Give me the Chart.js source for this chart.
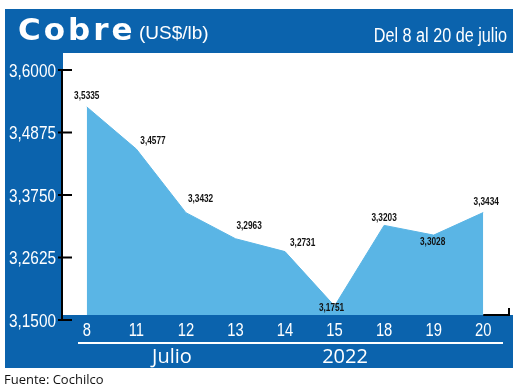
<!DOCTYPE html>
<html><head><meta charset="utf-8">
<script src="https://cdn.jsdelivr.net/npm/chart.js@4/dist/chart.umd.min.js"></script>
<style>html,body{margin:0;padding:0;background:#fff;}#c{display:block;}</style>
</head><body>
<canvas id="c" width="520" height="391"></canvas>
<script>
const days = ['8','11','12','13','14','15','18','19','20'];
const prices = [3.5335, 3.4577, 3.3432, 3.2963, 3.2731, 3.1751, 3.3203, 3.3028, 3.3434];
const yTicks = [3.15, 3.2625, 3.375, 3.4875, 3.6];
// label offsets relative to point: [dx, dy, align]
const labelPos = [[0,-11,'center'],[4,-8,'left'],[2,-14,'left'],[1,-13,'left'],[5,-9,'left'],[-3,2,'center'],[0,-8,'center'],[-1,7,'center'],[3,-11,'center']];

const DARK = '#0b63ad';
const FILL = '#5ab5e5';
const fmt = v => v.toFixed(4).replace('.', ',');
const SANS = '"Liberation Sans", Arial, sans-serif';

function narrow(ctx, text, x, y, size, sx, align, weight) {
  ctx.save();
  ctx.font = (weight || 'normal') + ' ' + size + 'px ' + SANS;
  ctx.translate(x, y);
  ctx.scale(sx, 1);
  ctx.textAlign = align;
  ctx.fillText(text, 0, 0);
  ctx.restore();
}

const deco = {
  id: 'deco',
  beforeDraw(chart) {
    const ctx = chart.ctx;
    ctx.save();
    ctx.fillStyle = '#fff';
    ctx.fillRect(0,0,520,391);
    ctx.fillStyle = DARK;
    ctx.fillRect(5, 9, 508, 359);
    ctx.fillStyle = '#fff';
    ctx.fillRect(63, 53, 457, 262);
    // header
    ctx.fillStyle = '#fff';
    ctx.textBaseline = 'alphabetic';
    ctx.font = 'bold 31px "DejaVu Sans", sans-serif';
    ctx.letterSpacing = '3px';
    ctx.fillText('Cobre', 18, 40);
    ctx.letterSpacing = '0px';
    ctx.font = '19px ' + SANS;
    ctx.fillText('(US$/lb)', 139, 39);
    ctx.restore();
    ctx.save();
    ctx.fillStyle = '#fff';
    ctx.textBaseline = 'alphabetic';
    narrow(ctx, 'Del 8 al 20 de julio', 507, 42, 19.5, 0.83, 'right');
    ctx.restore();
  },
  afterDatasetsDraw(chart) {
    const ctx = chart.ctx;
    const xs = chart.scales.x, ys = chart.scales.y;
    const ca = chart.chartArea;
    ctx.save();
    // bottom band (covers lower edge of fill)
    ctx.fillStyle = DARK;
    ctx.fillRect(5, 315, 508, 53);
    ctx.fillStyle = '#fff';
    ctx.textBaseline = 'middle';
    // x tick labels
    xs.ticks.forEach((t, i) => {
      narrow(ctx, days[i], xs.getPixelForTick(i), 331, 18, 0.82, 'center');
    });
    // y tick labels
    ys.ticks.forEach(t => {
      narrow(ctx, fmt(t.value), 56, ys.getPixelForValue(t.value) + 1.5, 19, 0.81, 'right');
    });
    // group labels
    ctx.textAlign = 'center';
    ctx.font = '20px "Open Sans", sans-serif';
    ctx.fillText('Julio', 172, 357);
    ctx.fillText('2022', 345, 357);
    ctx.fillRect(78, 342, 425, 2);
    // source
    ctx.fillStyle = '#111';
    ctx.textAlign = 'left';
    ctx.font = '13px "Open Sans", sans-serif';
    ctx.fillText('Fuente: Cochilco', 4, 380);
    // axes
    ctx.strokeStyle = '#000';
    ctx.lineWidth = 2;
    ctx.beginPath();
    ctx.moveTo(62, ys.getPixelForValue(yTicks[yTicks.length-1]));
    ctx.lineTo(62, ca.bottom + 1);
    yTicks.forEach(v => {
      const y = ys.getPixelForValue(v);
      ctx.moveTo(58, y); ctx.lineTo(72, y);
    });
    const xr = xs.getPixelForValue(days.length - 1);
    ctx.moveTo(xr, 315);
    ctx.lineTo(ca.right + 1, 315);
    ctx.lineTo(ca.right + 1, 308);
    ctx.stroke();
    // data labels
    ctx.fillStyle = '#111';
    prices.forEach((v, i) => {
      const px = xs.getPixelForValue(i), py = ys.getPixelForValue(v);
      const [dx, dy, al] = labelPos[i];
      narrow(ctx, fmt(v), px + dx, py + dy, 11.5, 0.72, al, 'bold');
    });
    ctx.restore();
  }
};

new Chart(document.getElementById('c'), {
  type: 'line',
  data: {
    labels: days,
    datasets: [{
      data: prices,
      fill: 'origin',
      backgroundColor: FILL,
      borderColor: FILL,
      borderWidth: 1,
      pointRadius: 0,
      tension: 0
    }]
  },
  options: {
    responsive: false,
    animation: false,
    devicePixelRatio: 1,
    layout: { padding: { left: 5, top: 70, right: 12, bottom: 41 } },
    plugins: { legend: { display: false }, tooltip: { enabled: false } },
    scales: {
      x: {
        offset: true,
        grid: { display: false, drawTicks: false },
        border: { display: false },
        ticks: { display: false },
        afterFit: s => { s.height = 30; }
      },
      y: {
        min: 3.15, max: 3.6,
        grid: { display: false, drawTicks: false },
        border: { display: false },
        afterBuildTicks: s => { s.ticks = yTicks.map(v => ({ value: v })); },
        ticks: { display: false },
        afterFit: s => { s.width = 57; }
      }
    }
  },
  plugins: [deco]
});
</script>
</body></html>
